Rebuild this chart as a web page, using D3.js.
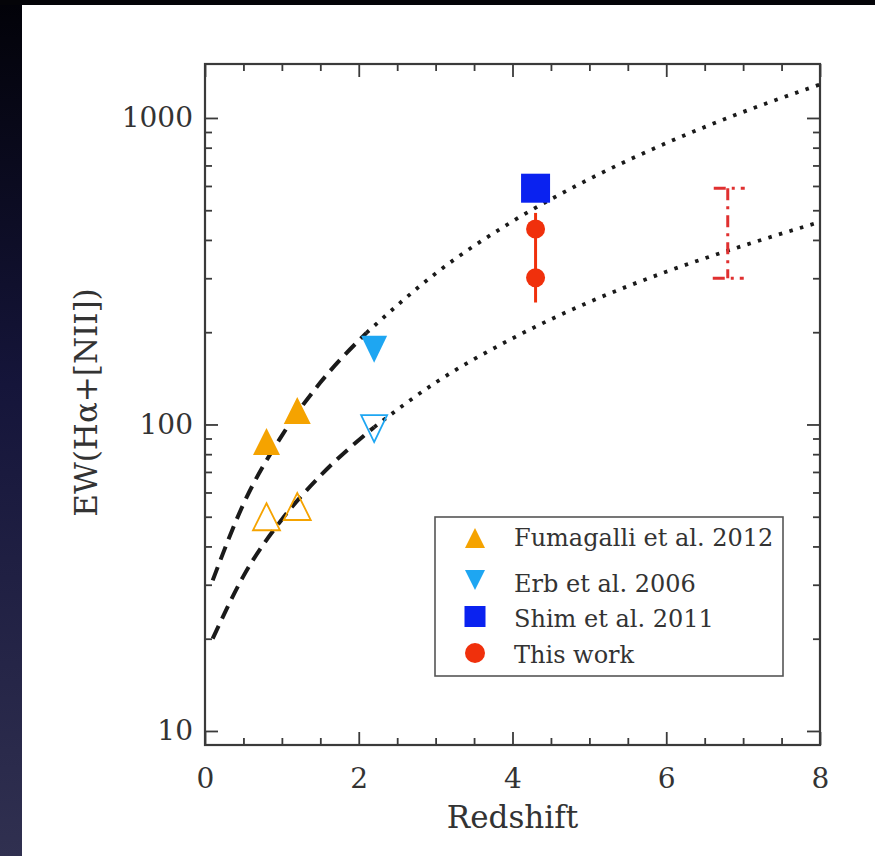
<!DOCTYPE html>
<html>
<head>
<meta charset="utf-8">
<script src="https://d3js.org/d3.v7.min.js"></script>
<style>
  html, body { margin: 0; padding: 0; background: #ffffff; }
  svg { display: block; }
  text { font-family: "DejaVu Serif", "Liberation Serif", serif; fill: #333333; }
</style>
</head>
<body>
<svg id="chart" width="875" height="856"></svg>
<script>
// ---- data -------------------------------------------------------------
// Fumagalli et al. 2012 (filled: upper sample, open: lower sample)
const fumFilledZ  = [0.8, 1.2];
const fumFilledEW = [88, 111];
const fumOpenZ    = [0.8, 1.2];
const fumOpenEW   = [50, 54];

// Erb et al. 2006
const erbFilledZ  = [2.2];
const erbFilledEW = [176];
const erbOpenZ    = [2.2];
const erbOpenEW   = [97];

// Shim et al. 2011
const shimZ  = [4.3];
const shimEW = [590];

// This work: two estimates with a common error bar
const thisZ      = [4.3, 4.3];
const thisEW     = [434, 301];
const thisErrLow  = 250;
const thisErrHigh = 490;

// Range bar at higher redshift (dash-dot)
const rangeZ    = 6.8;
const rangeLow  = 300;
const rangeHigh = 590;

// Evolution tracks: dashed where constrained, dotted extrapolation
const upperDashedZ  = [0.1, 0.5, 1.0, 1.5, 2.1];
const upperDashedEW = [31, 55, 92, 137, 199];
const upperDottedZ  = [2.1, 3, 4, 5, 6, 7, 8];
const upperDottedEW = [199, 311, 460, 632, 828, 1046, 1286];

const lowerDashedZ  = [0.1, 0.5, 1.0, 1.5, 2.2];
const lowerDashedEW = [20, 32, 49, 68, 98];
const lowerDottedZ  = [2.2, 3, 4, 5, 6, 7, 8];
const lowerDottedEW = [98, 137, 191, 251, 315, 383, 458];

// Axis ticks
const xMajorTicks = [0, 2, 4, 6, 8];
const xTickLabels = ["0", "2", "4", "6", "8"];
const yMajorTicks = [10, 100, 1000];
const yTickLabels = ["10", "100", "1000"];

const legendLabels = ["Fumagalli et al. 2012", "Erb et al. 2006", "Shim et al. 2011", "This work"];

// ---- colours ----------------------------------------------------------
const cOrange = "#f5a300";
const cCyan   = "#1ea6f2";
const cBlue   = "#0a22f0";
const cRed    = "#f0300c";
const cRange  = "#e03030";
const cAxis   = "#3a3a3a";

// ---- layout -----------------------------------------------------------
const svg = d3.select("#chart");
const W = 875, H = 856;
const plot = { left: 205, right: 820, top: 64, bottom: 745 };

const x = d3.scaleLinear().domain([0, 8]).range([plot.left, plot.right]);
const y = d3.scaleLog().domain([9, 1500]).range([plot.bottom, plot.top]);

// page background: dark strip on the left, thin dark band on top
const defs = svg.append("defs");
const grad = defs.append("linearGradient").attr("id", "strip")
  .attr("x1", 0).attr("y1", 0).attr("x2", 0).attr("y2", 1);
grad.append("stop").attr("offset", "0%").attr("stop-color", "#020208");
grad.append("stop").attr("offset", "45%").attr("stop-color", "#15153a");
grad.append("stop").attr("offset", "100%").attr("stop-color", "#303050");

svg.append("rect").attr("x", 0).attr("y", 0).attr("width", W).attr("height", H).attr("fill", "#ffffff");
svg.append("rect").attr("x", 0).attr("y", 0).attr("width", 22).attr("height", H).attr("fill", "url(#strip)");
svg.append("rect").attr("x", 0).attr("y", 0).attr("width", W).attr("height", 5).attr("fill", "#040408");

// ---- axes -------------------------------------------------------------
const xMinor = d3.range(0, 8.01, 0.5).filter(v => !xMajorTicks.includes(v));
const yMinorAll = [];
[1, 10, 100, 1000].forEach(d => { for (let k = 2; k <= 9; k++) yMinorAll.push(k * d); });
const yMinor = yMinorAll.filter(v => v > 9 && v < 1500 && !yMajorTicks.includes(v));

const majorLen = 13, minorLen = 7;

function addAxis(axis, tx, ty) {
  const g = svg.append("g").attr("transform", `translate(${tx},${ty})`).call(axis);
  g.select(".domain").remove();
  g.selectAll(".tick line").attr("stroke", cAxis).attr("stroke-width", 1.8);
  return g;
}

// bottom
addAxis(d3.axisBottom(x).tickValues(xMinor).tickSize(-minorLen).tickFormat(""), 0, plot.bottom);
const gxb = addAxis(d3.axisBottom(x).tickValues(xMajorTicks).tickSize(-majorLen)
  .tickPadding(23).tickFormat((d, i) => xTickLabels[i]), 0, plot.bottom);
gxb.selectAll(".tick text").attr("font-size", 28).attr("fill", "#333")
  .attr("font-family", "DejaVu Serif, serif");

// top
addAxis(d3.axisTop(x).tickValues(xMinor).tickSize(-minorLen).tickFormat(""), 0, plot.top);
addAxis(d3.axisTop(x).tickValues(xMajorTicks).tickSize(-majorLen).tickFormat(""), 0, plot.top);

// left
addAxis(d3.axisLeft(y).tickValues(yMinor).tickSize(-minorLen).tickFormat(""), plot.left, 0);
const gyl = addAxis(d3.axisLeft(y).tickValues(yMajorTicks).tickSize(-majorLen)
  .tickPadding(12).tickFormat((d, i) => yTickLabels[i]), plot.left, 0);
gyl.selectAll(".tick text").attr("font-size", 28).attr("fill", "#333")
  .attr("font-family", "DejaVu Serif, serif");

// right
addAxis(d3.axisRight(y).tickValues(yMinor).tickSize(-minorLen).tickFormat(""), plot.right, 0);
addAxis(d3.axisRight(y).tickValues(yMajorTicks).tickSize(-majorLen).tickFormat(""), plot.right, 0);

// frame
svg.append("rect")
  .attr("x", plot.left).attr("y", plot.top)
  .attr("width", plot.right - plot.left).attr("height", plot.bottom - plot.top)
  .attr("fill", "none").attr("stroke", cAxis).attr("stroke-width", 2.2);

// axis titles
svg.append("text")
  .attr("x", (plot.left + plot.right) / 2).attr("y", 828)
  .attr("text-anchor", "middle").attr("font-size", 31)
  .text("Redshift");

svg.append("text")
  .attr("transform", `translate(97,${(plot.top + plot.bottom) / 2 - 2}) rotate(-90)`)
  .attr("text-anchor", "middle").attr("font-size", 31)
  .text("EW(Hα+[NII])");

// ---- tracks -----------------------------------------------------------
const line = d3.line()
  .x(d => x(d[0])).y(d => y(d[1]))
  .curve(d3.curveMonotoneX);

function track(zs, ews, dash, width) {
  svg.append("path")
    .datum(d3.zip(zs, ews))
    .attr("d", line)
    .attr("fill", "none")
    .attr("stroke", "#1a1a1a")
    .attr("stroke-width", width)
    .attr("stroke-dasharray", dash);
}
track(upperDashedZ, upperDashedEW, "14,8", 4);
track(lowerDashedZ, lowerDashedEW, "14,8", 4);
track(upperDottedZ, upperDottedEW, "3.5,7.5", 3.8);
track(lowerDottedZ, lowerDottedEW, "3.5,7.5", 3.8);

// ---- markers ----------------------------------------------------------
function triUp(w, h)   { return `M0,${-h / 2}L${w / 2},${h / 2}L${-w / 2},${h / 2}Z`; }
function triDown(w, h) { return `M0,${h / 2}L${w / 2},${-h / 2}L${-w / 2},${-h / 2}Z`; }

// Fumagalli
svg.append("g").selectAll("path")
  .data(d3.zip(fumOpenZ, fumOpenEW)).join("path")
  .attr("transform", d => `translate(${x(d[0])},${y(d[1])})`)
  .attr("d", triUp(27, 27))
  .attr("fill", "none").attr("stroke", cOrange).attr("stroke-width", 1.8);
svg.append("g").selectAll("path")
  .data(d3.zip(fumFilledZ, fumFilledEW)).join("path")
  .attr("transform", d => `translate(${x(d[0])},${y(d[1])})`)
  .attr("d", triUp(27, 27))
  .attr("fill", cOrange);

// Erb
svg.append("g").selectAll("path")
  .data(d3.zip(erbOpenZ, erbOpenEW)).join("path")
  .attr("transform", d => `translate(${x(d[0])},${y(d[1])})`)
  .attr("d", triDown(26, 27))
  .attr("fill", "none").attr("stroke", cCyan).attr("stroke-width", 1.8);
svg.append("g").selectAll("path")
  .data(d3.zip(erbFilledZ, erbFilledEW)).join("path")
  .attr("transform", d => `translate(${x(d[0])},${y(d[1])})`)
  .attr("d", triDown(26, 27))
  .attr("fill", cCyan);

// Shim
svg.append("g").selectAll("rect")
  .data(d3.zip(shimZ, shimEW)).join("rect")
  .attr("x", d => x(d[0]) - 14.5).attr("y", d => y(d[1]) - 14.5)
  .attr("width", 29).attr("height", 29)
  .attr("fill", cBlue);

// This work: error bar then points
svg.append("line")
  .attr("x1", x(thisZ[0])).attr("x2", x(thisZ[0]))
  .attr("y1", y(thisErrLow)).attr("y2", y(thisErrHigh))
  .attr("stroke", cRed).attr("stroke-width", 3);
svg.append("g").selectAll("circle")
  .data(d3.zip(thisZ, thisEW)).join("circle")
  .attr("cx", d => x(d[0])).attr("cy", d => y(d[1]))
  .attr("r", 9.5).attr("fill", cRed);

// dash-dot range bar
const rb = svg.append("g")
  .attr("stroke", cRange).attr("stroke-width", 3).attr("fill", "none")
  .attr("stroke-dasharray", "12,6,3,6");
rb.append("line")
  .attr("x1", x(rangeZ)).attr("x2", x(rangeZ))
  .attr("y1", y(rangeHigh)).attr("y2", y(rangeLow));
rb.append("line")
  .attr("x1", x(rangeZ) - 14).attr("x2", x(rangeZ) + 17)
  .attr("y1", y(rangeHigh)).attr("y2", y(rangeHigh));
rb.append("line")
  .attr("x1", x(rangeZ) - 15).attr("x2", x(rangeZ) + 16)
  .attr("y1", y(rangeLow)).attr("y2", y(rangeLow))
  .attr("stroke-dasharray", null);

// ---- legend -----------------------------------------------------------
const leg = svg.append("g");
leg.append("rect")
  .attr("x", 435).attr("y", 517).attr("width", 348).attr("height", 159)
  .attr("fill", "#ffffff").attr("stroke", "#555").attr("stroke-width", 1.6);

const legRows = [538, 580, 616.5, 653];
const legBase = [546, 592, 627, 663];
const mx = 475;

leg.append("path").attr("transform", `translate(${mx},${legRows[0]})`)
  .attr("d", triUp(20, 20)).attr("fill", cOrange);
leg.append("path").attr("transform", `translate(${mx},${legRows[1]})`)
  .attr("d", triDown(20, 20)).attr("fill", cCyan);
leg.append("rect").attr("x", mx - 10.5).attr("y", legRows[2] - 10.5)
  .attr("width", 21).attr("height", 21).attr("fill", cBlue);
leg.append("circle").attr("cx", mx).attr("cy", legRows[3]).attr("r", 10).attr("fill", cRed);

leg.selectAll("text.lab")
  .data(legendLabels).join("text")
  .attr("class", "lab")
  .attr("x", 514).attr("y", (d, i) => legBase[i])
  .attr("font-size", 24)
  .text(d => d);
</script>
</body>
</html>
